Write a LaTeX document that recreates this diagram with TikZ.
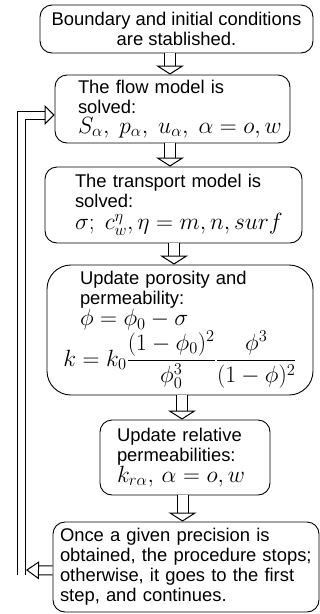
\RequirePackage{fix-cm}
\documentclass[tikz,border=0pt]{standalone}
\usepackage{amsmath}
\usepackage{fontspec}
\setmainfont{Liberation Sans}
\usetikzlibrary{arrows.meta, positioning, calc}
\newcommand{\eqsize}{\fontsize{23.5}{26}\selectfont}
\tikzset{
    stepbox/.style={draw, line width=0.9pt, rounded corners=12pt,
                    inner sep=0pt, align=left,
                    font=\fontsize{18.4}{20}\selectfont},
    bigbox/.style={stepbox, rounded corners=24pt},
    fatarrow/.style={double, double distance=10pt, line width=1pt,
                     -{Triangle[open, width=28pt, length=9pt]}},
    looparrow/.style={double, double distance=7pt, line width=1pt,
                      line join=miter},
    loophead/.style={double, double distance=8pt, line width=1pt,
                     -{Triangle[open, width=18pt, length=13pt]}},
}

\begin{document}
\begin{tikzpicture}[x=1pt, y=-1pt]
    \useasboundingbox (0,0) rectangle (320,614);
    % steps
    \node[stepbox, align=center, minimum width=273pt, minimum height=48pt]
        (bound) at (176.5,29) {Boundary and initial conditions\\are stablished.};
    \node[stepbox, text width=189pt, minimum width=235pt, minimum height=68pt]
        (flow) at (172.5,109) {The flow model is\\solved:\\
        \mbox{\eqsize$S_\alpha,\ p_\alpha,\ u_\alpha,\ \alpha=o,w$}};
    \node[stepbox, text width=197pt, minimum width=257pt, minimum height=76pt]
        (trans) at (173.5,205) {The transport model is\\solved:\\[2pt]
        \mbox{\eqsize$\sigma;\ c_w^\eta,\eta=m,n,surf$}};
    \node[bigbox, text width=200pt, minimum width=266pt, minimum height=130pt]
        (poro) at (180,330) {Update porosity and\\permeability:\\
        \mbox{\eqsize$\phi=\phi_0-\sigma$}\\
        \makebox[200pt][c]{\eqsize$k=k_0\dfrac{(1-\phi_0)^2}{\phi_0^3}\dfrac{\phi^3}{(1-\phi)^2}$}};
    \node[stepbox, text width=136pt, minimum width=170pt, minimum height=75pt]
        (relperm) at (185,457.5) {Update relative\\permeabilities:\\
        \mbox{\eqsize$k_{r\alpha},\,\alpha=o,w$}};
    \node[stepbox, text width=252pt, minimum width=266pt, minimum height=90pt]
        (stop) at (186,567) {Once a given precision is\\obtained, the procedure stops;\\
        otherwise, it goes to the first\\step, and continues.};
    % forward arrows
    \draw[fatarrow] ([xshift=-6.5pt]bound.south) -- ([xshift=-2.5pt]flow.north);
    \draw[fatarrow] ([xshift=-2.5pt]flow.south) -- ([xshift=-3.5pt]trans.north);
    \draw[fatarrow] ([xshift=0.5pt]trans.south) -- ([xshift=-6pt]poro.north);
    \draw[fatarrow] ([xshift=2pt]poro.south) -- ([xshift=-3pt]relperm.north);
    \draw[fatarrow] ([xshift=-2.5pt]relperm.south) -- ([xshift=-3.5pt]stop.north);
    % back to the flow model
    \coordinate (lbot) at (21.5,575);
    \coordinate (ltop) at (21.5,115);
    \coordinate (lhit) at (26,570);
    \draw[loophead] ([yshift=-3.5pt]stop.west) -- (lhit);
    \draw[looparrow, -{Triangle[open, width=20pt, length=10pt]}]
        (lbot) -- (ltop) -- ([yshift=-6pt]flow.west);
\end{tikzpicture}
\end{document}
